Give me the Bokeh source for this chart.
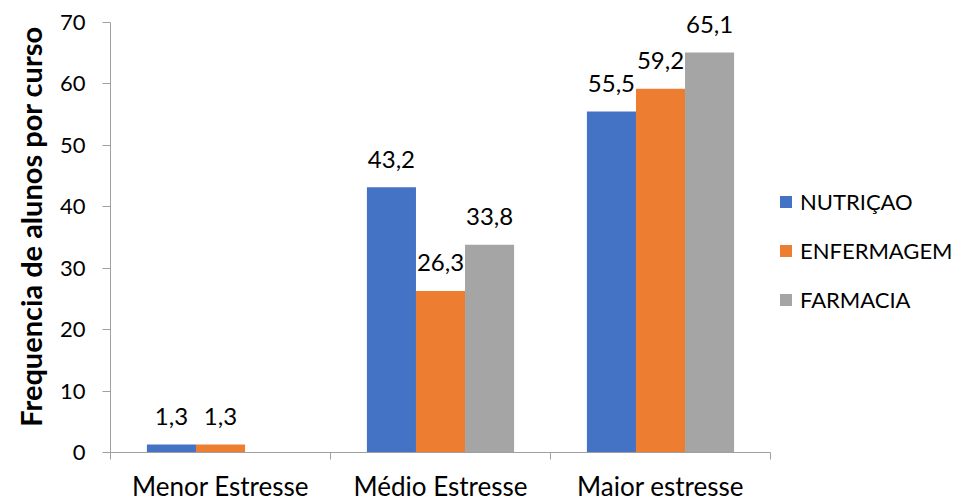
from bokeh.plotting import figure
from bokeh.models import (FixedTicker, Legend, LegendItem, ColumnDataSource, Range1d)
from bokeh.core.properties import value
from bokeh.embed import file_html
from bokeh.resources import INLINE

categories = ["Menor Estresse", "Médio Estresse", "Maior estresse"]
series = ["NUTRIÇAO", "ENFERMAGEM", "FARMACIA"]
nutricao = [1.3, 43.2, 55.5]
enfermagem = [1.3, 26.3, 59.2]
farmacia = [None, 33.8, 65.1]
colors = ["#4472C4", "#ED7D31", "#A5A5A5"]
y_ticks = [0, 10, 20, 30, 40, 50, 60, 70]

FONT = "Lato"
BAR_W = 0.223

# frame extends 22px above the top tick so the top data label is not clipped
y_top = y_ticks[-1] * 452 / 430

p = figure(frame_width=660, frame_height=452, output_backend="svg", toolbar_location=None,
           x_range=Range1d(0, 3), y_range=Range1d(0, y_top),
           min_border_left=110, min_border_right=0, min_border_top=0, min_border_bottom=50)
p.outline_line_color = None
p.xgrid.grid_line_color = None
p.ygrid.grid_line_color = None

legend_items = []
for j, (name, vals) in enumerate(zip(series, [nutricao, enfermagem, farmacia])):
    xs, tops, labels = [], [], []
    for i, v in enumerate(vals):
        if v is None:
            continue
        xs.append(i + 0.5 + (j - 1) * BAR_W)
        tops.append(v)
        labels.append(f"{v:.1f}".replace(".", ","))
    src = ColumnDataSource(dict(x=xs, top=tops, label=labels))
    r = p.vbar(x="x", top="top", width=BAR_W, bottom=0, source=src,
               fill_color=colors[j], line_color=None)
    p.text(x="x", y="top", text="label", source=src, text_align="center",
           text_baseline="alphabetic", y_offset=-28, text_font=value(FONT),
           text_font_size="24px", text_color="#000000")
    legend_items.append(LegendItem(label=name, renderers=[r]))

axis_color = "#A0A0A0"

xa = p.xaxis[0]
xa.ticker = FixedTicker(ticks=[0.5, 1.5, 2.5], minor_ticks=[0, 1, 2, 3])
xa.major_label_overrides = {0.5: categories[0], 1.5: categories[1], 2.5: categories[2]}
xa.major_tick_out = 0
xa.major_tick_in = 0
xa.minor_tick_out = 7
xa.minor_tick_in = 0
xa.minor_tick_line_color = axis_color
xa.axis_line_color = axis_color
xa.major_label_text_font = FONT
xa.major_label_text_font_size = "26px"
xa.major_label_text_color = "#000000"
xa.major_label_standoff = 10

ya = p.yaxis[0]
ya.ticker = FixedTicker(ticks=y_ticks)
ya.bounds = (y_ticks[0], y_ticks[-1])
ya.minor_tick_line_color = None
ya.major_tick_out = 8
ya.major_tick_in = 0
ya.major_tick_line_color = axis_color
ya.axis_line_color = axis_color
ya.major_label_text_font = FONT
ya.major_label_text_font_size = "22px"
ya.major_label_text_color = "#000000"
ya.major_label_standoff = 17
ya.axis_label = "Frequencia de alunos por curso"
ya.axis_label_text_font = FONT
ya.axis_label_text_font_style = "bold"
ya.axis_label_text_font_size = "29px"
ya.axis_label_text_color = "#000000"
ya.axis_label_standoff = 9

legend = Legend(items=legend_items, location=(8, 139), orientation="vertical",
                label_text_font=FONT, label_text_font_size="22px", label_text_color="#000000",
                glyph_width=15, glyph_height=15, label_standoff=7, spacing=22,
                padding=0, margin=0, border_line_color=None, background_fill_alpha=0)
p.add_layout(legend, "right")

open("out.html", "w").write(file_html(p, INLINE))
